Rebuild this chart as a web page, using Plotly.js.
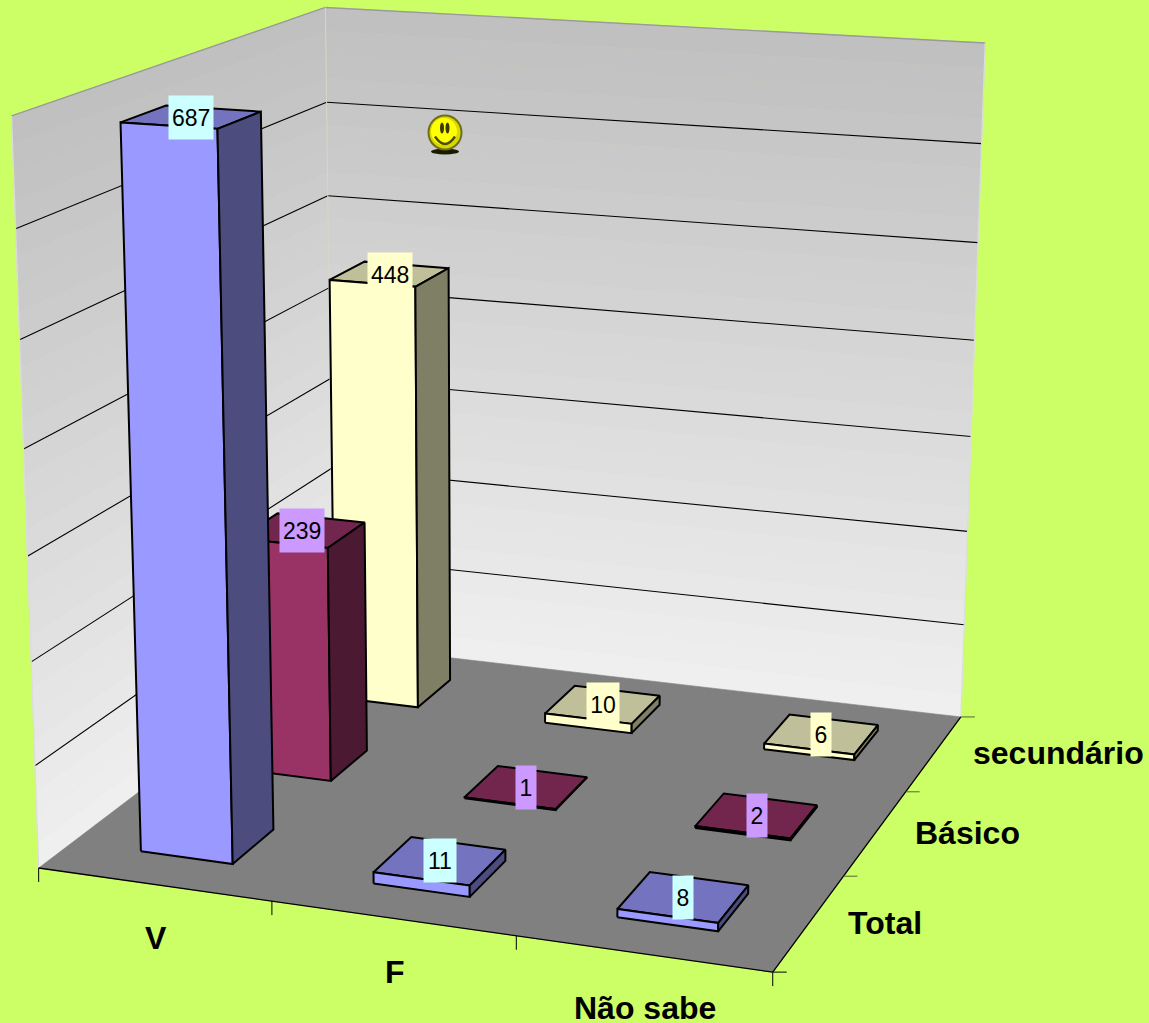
<!DOCTYPE html>
<html><head><meta charset="utf-8">
<script src="https://cdn.plot.ly/plotly-3.0.1.min.js"></script>
<style>html,body{margin:0;padding:0;background:#CCFF66;overflow:hidden}</style>
</head><body><div id="chart" style="width:1149px;height:1023px"></div>
<script>
// ---- data
const categories = ['V', 'F', 'Não sabe'];
const seriesNames = ['Total', 'Básico', 'secundário'];
const totalValues = [687, 11, 8];
const basicoValues = [239, 1, 2];
const secundarioValues = [448, 10, 6];
const axisMax = 700;
const gridStep = 100;

// ---- styles
const faceColors = [
  {front:'#9999FF', top:'#7373BF', side:'#4C4C7F', label:'#CCFFFF'},
  {front:'#993366', top:'#73264D', side:'#4C1933', label:'#CC99FF'},
  {front:'#FFFFCC', top:'#BFBF99', side:'#7F7F66', label:'#FFFFCC'}
];
const halfU = 0.2, halfV = 0.2;

// ---- view calibration: (category pos, series pos, value) -> canvas pixel
const calib = [
 [0,0,0,39,868],[3,0,0,771,972],[0,3,0,329,645],[3,3,0,962,718],
 [0,0,700,10,115],[0,3,700,328,8],[3,3,700,984,43],
 [1,0,0,273,901],[2,0,0,516,937],[3,1,0,843,877],[3,2,0,906,792],
 [3,3,100,964,623],[3,3,600,982,143],[0,3,100,329,556],[0,3,600,329,103],
 [0,0,0,39,868],[0,0,700,10,115],
 [.3,.3,0,142,852],[.7,.3,0,233,864],[.7,.7,0,274,826],
 [.3,.3,687,121,123],[.7,.3,687,216,130],[.7,.7,687,260,112],
 [.7,1.3,0,333,782],[.7,1.7,0,368,752],[.7,1.3,239,328,548],[.7,1.7,239,367,521],
 [.7,2.3,0,418,707],[.7,2.7,0,450,680]
];
function solveCamera(pts){
  const A=[],b=[];
  pts.forEach(([X,Y,Z,u,v])=>{
    A.push([X,Y,Z,1,0,0,0,0,-u*X,-u*Y,-u*Z]);b.push(u);
    A.push([0,0,0,0,X,Y,Z,1,-v*X,-v*Y,-v*Z]);b.push(v);
  });
  const n=11,M=[];
  for(let i=0;i<n;i++){M.push([]);for(let j=0;j<=n;j++){let s=0;
    for(let k=0;k<A.length;k++)s+=A[k][i]*(j<n?A[k][j]:b[k]);M[i].push(s);}}
  for(let i=0;i<n;i++){let p=i;for(let r=i+1;r<n;r++)if(Math.abs(M[r][i])>Math.abs(M[p][i]))p=r;
    [M[i],M[p]]=[M[p],M[i]];
    for(let r=0;r<n;r++){if(r===i)continue;const f=M[r][i]/M[i][i];for(let c=i;c<=n;c++)M[r][c]-=f*M[i][c];}}
  return M.map((r,i)=>r[n]/r[i]);
}
const P=solveCamera(calib);
function proj(a,b,c){const w=P[8]*a+P[9]*b+P[10]*c+1;
  return [(P[0]*a+P[1]*b+P[2]*c+P[3])/w,(P[4]*a+P[5]*b+P[6]*c+P[7])/w];}

const traces=[];
function poly(pts,fill,lineColor,lineWidth){
  const xs=pts.map(p=>p[0]),ys=pts.map(p=>p[1]);xs.push(xs[0]);ys.push(ys[0]);
  traces.push({type:'scatter',mode:'lines',x:xs,y:ys,fill:'toself',fillcolor:fill,
    line:{color:lineColor||fill,width:lineWidth===undefined?0.6:lineWidth},hoverinfo:'skip',showlegend:false});
}
function seg(a,b,color,width){
  traces.push({type:'scatter',mode:'lines',x:[a[0],b[0]],y:[a[1],b[1]],
    line:{color:color,width:width},hoverinfo:'skip',showlegend:false});
}
function wallColor(t){const v=Math.round(192+(239-192)*t);return 'rgb('+v+','+v+','+v+')';}

// walls with stepped gradient
const nCat=categories.length,nSer=seriesNames.length,bands=28;
for(let i=0;i<bands;i++){
  const z1=axisMax*(1-i/bands),z0=axisMax*(1-(i+1)/bands),col=wallColor(i/(bands-1));
  poly([proj(0,0,z0),proj(0,nSer,z0),proj(0,nSer,z1),proj(0,0,z1)],col);
  poly([proj(0,nSer,z0),proj(nCat,nSer,z0),proj(nCat,nSer,z1),proj(0,nSer,z1)],col);
}
// wall gridlines
for(let z=gridStep;z<axisMax;z+=gridStep){
  seg(proj(0,0,z),proj(0,nSer,z),'#000',1.1);
  seg(proj(0,nSer,z),proj(nCat,nSer,z),'#000',1.1);
}
// wall rim
seg(proj(0,0,axisMax),proj(0,nSer,axisMax),'#9a9a9a',1.4);
seg(proj(0,nSer,axisMax),proj(nCat,nSer,axisMax),'#9a9a9a',1.4);
seg(proj(0,nSer,0),proj(0,nSer,axisMax),'#d6d8c4',1);
seg(proj(nCat,nSer,0),proj(nCat,nSer,axisMax),'#dcdcdc',1.2);
seg(proj(0,0,0),proj(0,0,axisMax),'#dcdcdc',1.2);
// floor
poly([proj(0,0,0),proj(nCat,0,0),proj(nCat,nSer,0),proj(0,nSer,0)],'#808080');
seg(proj(0,0,0),proj(nCat,0,0),'#000',1.3);
seg(proj(nCat,0,0),proj(nCat,nSer,0),'#000',1.3);
// axis ticks
for(let i=0;i<=nCat;i++){const p=proj(i,0,0);seg(p,[p[0],p[1]+14],'#000',1);}
for(let j=0;j<=nSer;j++){const p=proj(nCat,j,0);seg(p,[p[0]+14,p[1]],j===0?'#000':'#556633',1);}

// bars, back to front
const allSeries=[totalValues,basicoValues,secundarioValues];
const annotations=[];
const edge=2;
for(let s=nSer-1;s>=0;s--){
  for(let c=nCat-1;c>=0;c--){
    const val=allSeries[s][c],col=faceColors[s];
    const u0=c+.5-halfU,u1=c+.5+halfU,v0=s+.5-halfV,v1=s+.5+halfV;
    poly([proj(u0,v0,val),proj(u1,v0,val),proj(u1,v1,val),proj(u0,v1,val)],col.top,'#000',edge);
    poly([proj(u0,v0,0),proj(u1,v0,0),proj(u1,v0,val),proj(u0,v0,val)],col.front,'#000',edge);
    poly([proj(u1,v0,0),proj(u1,v1,0),proj(u1,v1,val),proj(u1,v0,val)],col.side,'#000',edge);
  }
}
// value labels, above every bar
for(let s=nSer-1;s>=0;s--){
  for(let c=nCat-1;c>=0;c--){
    const val=allSeries[s][c],p=proj(c+.5,s+.5,val),digits=String(val).length;
    annotations.push({x:p[0],y:p[1],xref:'x',yref:'y',text:String(val),showarrow:false,
      font:{family:'Liberation Sans, Arial, sans-serif',size:23,color:'#000'},
      bgcolor:faceColors[s].label,width:7.5+12.23*digits,height:43,borderpad:0,align:'center',valign:'middle'});
  }
}
// axis labels
const labelFont={family:'Liberation Sans, Arial, sans-serif',size:32,color:'#000',weight:700};
categories.forEach((t,i)=>{const p=proj(i+.5,0,0);
  annotations.push({x:p[0],y:p[1],xref:'x',yref:'y',text:'<b>'+t+'</b>',showarrow:false,xshift:2,yshift:-54,font:labelFont,xanchor:'center',yanchor:'middle'});});
seriesNames.forEach((t,j)=>{const p=proj(nCat,j+.5,0);
  annotations.push({x:p[0],y:p[1],xref:'x',yref:'y',text:'<b>'+t+'</b>',showarrow:false,xshift:37,font:labelFont,xanchor:'left',yanchor:'middle'});});

// smiley picture
const sx=445,sy=132.5;
function circle(cx,cy,rx,ry,fill){return {type:'circle',xref:'x',yref:'y',x0:cx-rx,x1:cx+rx,y0:cy-ry,y1:cy+ry,fillcolor:fill,line:{color:fill,width:0},layer:'above'};}
const shapes=[
  circle(sx,sy+19,14,3,'#1a1a00'),
  circle(sx,sy,17.5,18,'#6f6f18'),
  circle(sx,sy,15.5,16,'#D8D800'),
  circle(sx-1,sy-1,13,13.5,'#FFFF00'),
  circle(sx-3,sy-4.5,2,5.5,'#3a3a00'),
  circle(sx+2.5,sy-4.5,2,5.5,'#3a3a00'),
  {type:'path',xref:'x',yref:'y',layer:'above',path:`M ${sx-10} ${sy+4} Q ${sx} ${sy+19} ${sx+10} ${sy+4}`,line:{color:'#4a4a00',width:2.4}}
];

Plotly.newPlot('chart',traces,{
  width:1149,height:1023,margin:{l:0,r:0,t:0,b:0},
  paper_bgcolor:'#CCFF66',plot_bgcolor:'#CCFF66',showlegend:false,
  xaxis:{range:[0,1149],visible:false,fixedrange:true},
  yaxis:{range:[1023,0],visible:false,fixedrange:true},
  annotations,shapes
},{displayModeBar:false,staticPlot:true});
</script></body></html>
